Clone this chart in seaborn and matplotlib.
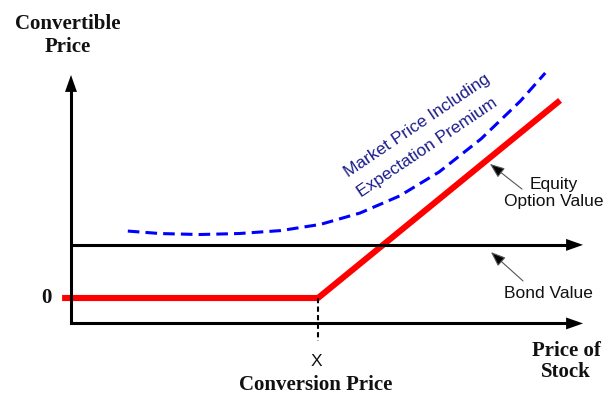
import matplotlib
matplotlib.use("Agg")
import matplotlib.pyplot as plt
import seaborn as sns
import pandas as pd

# --- values (stock price units; conversion price X = 100) ---
conversion_price = 100.0
bond_value = 21.5
axis_floor = -10.3

# conversion (equity option) value: flat at 0, rising above X
conv_stock = [-3.6, 100.0, 198.0]
conv_value = [0.0, 0.0, 80.0]

# market price including expectation premium
market_stock = [23, 36, 52, 68, 85, 101, 117, 133, 149, 166, 182, 192]
market_price = [27.1, 26.1, 25.7, 26.1, 27.3, 29.8, 34.4, 41.3, 51.0, 64.4, 79.8, 91.1]

x_axis_end = 207.3
y_axis_end = 90.3

sns.set_theme(style="white")
serif = ["Liberation Serif", "DejaVu Serif"]
narrow = ["Liberation Sans Narrow", "Liberation Sans", "DejaVu Sans"]
sans_size = 12.5

fig = plt.figure(figsize=(6.13, 3.94), dpi=100)
ax = fig.add_axes([0, 0, 1, 1])
ax.set_xlim(-71 / 2.47, (613 - 71) / 2.47)
ax.set_ylim((298 - 394) / 2.47, 298 / 2.47)
ax.axis("off")

conv_df = pd.DataFrame({"stock": conv_stock, "value": conv_value})
market_df = pd.DataFrame({"stock": market_stock, "price": market_price})

sns.lineplot(data=conv_df, x="stock", y="value", color="#ff0000", lw=4.4,
             solid_capstyle="butt", ax=ax, zorder=2)
sns.lineplot(data=market_df, x="stock", y="price", color="#0000ff", lw=2.2,
             linestyle=(0, (3.8, 2.0)), ax=ax, zorder=2)

# axes and bond value line
head = dict(arrowstyle="-|>,head_length=1.22,head_width=0.43", lw=0,
            color="black", shrinkA=0, shrinkB=0, mutation_scale=10)
ax.plot([0, 0, x_axis_end - 6.5], [y_axis_end - 6.5, axis_floor, axis_floor],
        color="black", lw=2.2, solid_joinstyle="miter", zorder=3)
ax.plot([0, x_axis_end - 6.5], [bond_value, bond_value],
        color="black", lw=2.2, solid_capstyle="butt", zorder=3)
ax.annotate("", xy=(0, y_axis_end), xytext=(0, y_axis_end - 8), arrowprops=head)
ax.annotate("", xy=(x_axis_end, axis_floor), xytext=(x_axis_end - 8, axis_floor),
            arrowprops=head)
ax.annotate("", xy=(x_axis_end, bond_value), xytext=(x_axis_end - 8, bond_value),
            arrowprops=head)

# dashed drop line at the conversion price
ax.plot([conversion_price, conversion_price], [0, -17.4], color="black", lw=1.5,
        linestyle=(0, (2.5, 1.6)), zorder=3)

# text
ax.text(-1.2, 106.3, "Convertible\nPrice", family=serif, weight="bold", fontsize=15,
        ha="center", va="center", multialignment="center", linespacing=1.2,
        color="#111111")
ax.text(-10.1, 0, "0", family=serif, weight="bold", fontsize=15,
        ha="center", va="center", color="#111111")
ax.text(99.2, -25.9, "X", family=narrow, fontsize=sans_size, ha="center", va="center",
        color="#111111")
ax.text(99.2, -35.2, "Conversion Price", family=serif, weight="bold", fontsize=15,
        ha="center", va="center", color="#111111")
ax.text(200.4, -25.7, "Price of\nStock", family=serif, weight="bold", fontsize=15,
        ha="center", va="center", multialignment="center", linespacing=1.1,
        color="#111111")

ax.text(140.1, 69.6, "Market Price Including", family=narrow, fontsize=sans_size,
        rotation=34, rotation_mode="anchor", ha="center", va="center",
        color="#1c1c8c")
ax.text(144.1, 61.1, "Expectation Premium", family=narrow, fontsize=sans_size,
        rotation=34, rotation_mode="anchor", ha="center", va="center",
        color="#1c1c8c")

ax.text(195.5, 42.5, "Equity\nOption Value", family=narrow, fontsize=sans_size,
        ha="center", va="center", multialignment="center", linespacing=1.2,
        color="#111111")
ax.text(193.1, 2.0, "Bond Value", family=narrow, fontsize=sans_size,
        ha="center", va="center", color="#111111")

pointer = dict(arrowstyle="-|>,head_length=0.9,head_width=0.35", lw=0.8,
               ec="#555555", fc="black", shrinkA=0, shrinkB=0, mutation_scale=10)
ax.annotate("", xy=(169.6, 54.3), xytext=(182.6, 44.1), arrowprops=pointer)
ax.annotate("", xy=(170.0, 18.6), xytext=(183.0, 6.9), arrowprops=pointer)

fig.savefig("out.png", dpi=100, facecolor="white")
